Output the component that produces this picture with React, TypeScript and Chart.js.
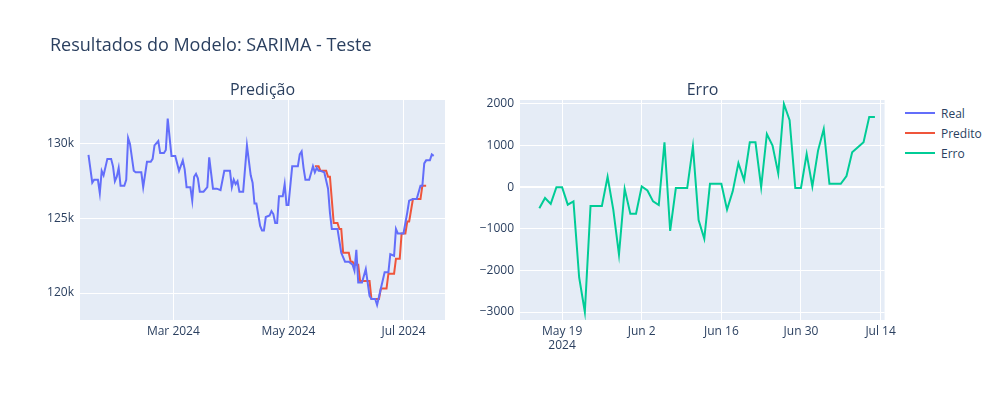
import React, { useEffect, useRef } from "react";
import { Chart, registerables } from "chart.js";
Chart.register(...registerables);

// day-of-year 2024 (Jan 1 = 0)
const realDays = [15,17,18,20,21,22,23,25,27,28,29,30,31,32,34,35,36,37,39,40,43,44,46,48,49,50,52,53,55,56,57,59,61,63,65,66,67,69,70,71,72,73,74,76,78,79,81,83,85,87,90,91,92,93,94,95,97,99,101,102,103,104,106,107,108,109,111,112,113,114,115,116,118,119,120,121,123,126,127,128,129,130,132,134,135,136,137,138,140,142,143,144,147,149,151,153,155,156,157,158,160,162,164,165,167,168,170,172,174,175,177,178,179,182,184,185,187,189,191,192,193,194,196,197,198];
const realVals = [129.27,127.4,127.6,127.6,126.7,128.2,127.9,129.0,129.0,128.5,127.5,127.8,128.4,127.2,127.2,127.6,130.4,130.0,128.2,128.1,128.1,127.1,128.8,128.8,129.0,129.9,130.2,129.4,129.4,129.6,131.7,129.2,129.2,128.2,128.9,128.3,127.1,127.1,126.2,127.8,128.0,127.7,126.8,126.8,127.1,129.1,127.0,127.0,126.9,128.2,128.2,127.1,127.6,127.3,127.5,126.8,126.8,129.9,127.9,127.4,126.0,126.0,124.5,124.2,124.2,125.1,125.2,125.5,125.3,124.7,124.7,126.5,126.5,127.3,125.9,125.9,128.5,128.5,129.3,129.5,128.4,127.6,127.6,128.5,128.1,128.4,128.2,128.2,128.1,127.0,125.4,124.3,124.3,122.7,122.1,122.1,121.9,121.5,122.9,120.7,120.7,121.6,119.8,119.6,119.6,119.2,120.3,121.4,121.4,122.6,122.5,124.3,124.0,124.0,125.4,126.2,126.3,126.3,127.2,127.2,128.7,128.9,128.9,129.3,129.2];
const predDays = [135,137,138,141,142,143,145,147,148,149,150,153,154,155,156,158,159,161,164,165,169,170,173,174,177,178,180,181,183,184,185,187,191,192,194];
const predVals = [128.5,128.5,128.2,128.2,127.8,127.8,124.7,124.7,124.3,124.3,122.7,122.7,122.1,122.1,121.9,121.9,120.8,120.8,120.8,119.6,119.6,120.3,120.3,121.3,121.3,122.3,122.3,124.0,124.0,124.8,124.8,126.3,126.3,127.2,127.2];
const errStartDay = 135; // May 15, daily
const errVals = [-504,-260,-400,0,0,-420,-340,-2170,-3000,-450,-450,-450,250,-540,-1620,-40,-640,-640,20,-80,-340,-430,1080,-1050,-20,-20,-20,980,-790,-1240,80,80,80,-540,-100,580,170,1080,1080,0,1280,1000,330,2000,1610,-20,-20,800,20,880,1400,80,80,80,270,840,960,1080,1690,1690];

const leftTicks = [60, 121, 182];
const leftTickLabels = ["Mar 2024", "May 2024", "Jul 2024"];
const rightTicks = [139, 153, 167, 181, 195];
const rightTickLabels: (string | string[])[] = [["May 19", "2024"], "Jun 2", "Jun 16", "Jun 30", "Jul 14"];

const FONT = "'Open Sans', sans-serif";
const TXT = "#2a3f5f";
const bgPlugin = {
  id: "bg",
  beforeDraw(c: any) {
    const a = c.chartArea;
    c.ctx.save();
    c.ctx.fillStyle = "#E5ECF6";
    c.ctx.fillRect(a.left, a.top, a.right - a.left, a.bottom - a.top);
    c.ctx.restore();
  },
};

function makeOpts(xmin: number, xmax: number, ymin: number, ymax: number, ticks: number[], labels: any[], yw: number, ytick: (v: number) => string, ystep: number) {
  return {
    animation: false,
    responsive: false,
    layout: { padding: { top: 100, right: 15, left: 0, bottom: 0 } },
    plugins: { legend: { display: false }, tooltip: { enabled: false } },
    elements: { point: { radius: 0 }, line: { borderWidth: 2, tension: 0 } },
    scales: {
      x: {
        type: "linear", min: xmin, max: xmax,
        afterBuildTicks: (s: any) => { s.ticks = ticks.map((v) => ({ value: v })); },
        afterFit: (s: any) => { s.height = 80; },
        ticks: { autoSkip: false, maxRotation: 0, color: TXT, font: { family: FONT, size: 12 }, padding: 4,
          callback: (v: number) => labels[ticks.indexOf(v)] ?? "" },
        grid: { color: "#fff", lineWidth: 1, drawTicks: false },
        border: { display: false },
      },
      y: {
        min: ymin, max: ymax,
        afterBuildTicks: (s: any) => {
          const t = [];
          for (let v = Math.ceil(ymin / ystep) * ystep; v <= ymax; v += ystep) t.push({ value: v });
          s.ticks = t;
        },
        afterFit: (s: any) => { s.width = yw; },
        ticks: { color: TXT, font: { family: FONT, size: 12 }, padding: 6, callback: ytick },
        grid: { color: "#fff", lineWidth: (c: any) => (c.tick && c.tick.value === 0 ? 2 : 1), drawTicks: false },
        border: { display: false },
      },
    },
  } as any;
}

export default function App() {
  const lRef = useRef<HTMLCanvasElement>(null);
  const rRef = useRef<HTMLCanvasElement>(null);
  useEffect(() => {
    const l = new Chart(lRef.current!, {
      type: "line",
      data: {
        datasets: [
          { label: "Real", data: realDays.map((d, i) => ({ x: d, y: realVals[i] * 1000 })), borderColor: "#636efa" },
          { label: "Predito", data: predDays.map((d, i) => ({ x: d, y: predVals[i] * 1000 })), borderColor: "#EF553B" },
        ],
      },
      options: makeOpts(10.5, 204, 118190, 132950, leftTicks, leftTickLabels, 80, (v) => v / 1000 + "k", 5000),
      plugins: [bgPlugin],
    });
    const r = new Chart(rRef.current!, {
      type: "line",
      data: {
        datasets: [
          { label: "Erro", data: errVals.map((v, i) => ({ x: errStartDay + i, y: v })), borderColor: "#00cc96" },
        ],
      },
      options: makeOpts(131.6, 195.7, -3192, 2096, rightTicks, rightTickLabels, 60, (v) => (v < 0 ? "\u2212" + Math.abs(v) : String(v)), 1000),
      plugins: [bgPlugin],
    });
    return () => { l.destroy(); r.destroy(); };
  }, []);
  const legend = [["Real", "#636efa"], ["Predito", "#EF553B"], ["Erro", "#00cc96"]];
  return (
    <div style={{ position: "fixed", left: 0, top: 0, width: 1000, height: 400, background: "#fff", fontFamily: FONT, color: TXT }}>
      <canvas ref={lRef} width={460} height={400} style={{ position: "absolute", left: 0, top: 0 }} />
      <canvas ref={rRef} width={440} height={400} style={{ position: "absolute", left: 460, top: 0 }} />
      <div style={{ position: "absolute", left: 50, top: 32, fontSize: 18 }}>Resultados do Modelo: SARIMA - Teste</div>
      <div style={{ position: "absolute", left: 80, width: 365, top: 78, fontSize: 16, textAlign: "center" }}>Predição</div>
      <div style={{ position: "absolute", left: 520, width: 365, top: 78, fontSize: 16, textAlign: "center" }}>Erro</div>
      {legend.map(([n, c], i) => (
        <div key={n} style={{ position: "absolute", left: 905, top: 104 + i * 20, fontSize: 12, display: "flex", alignItems: "center", height: 18 }}>
          <span style={{ display: "inline-block", width: 30, height: 2, background: c, marginRight: 6 }} />
          {n}
        </div>
      ))}
    </div>
  );
}
